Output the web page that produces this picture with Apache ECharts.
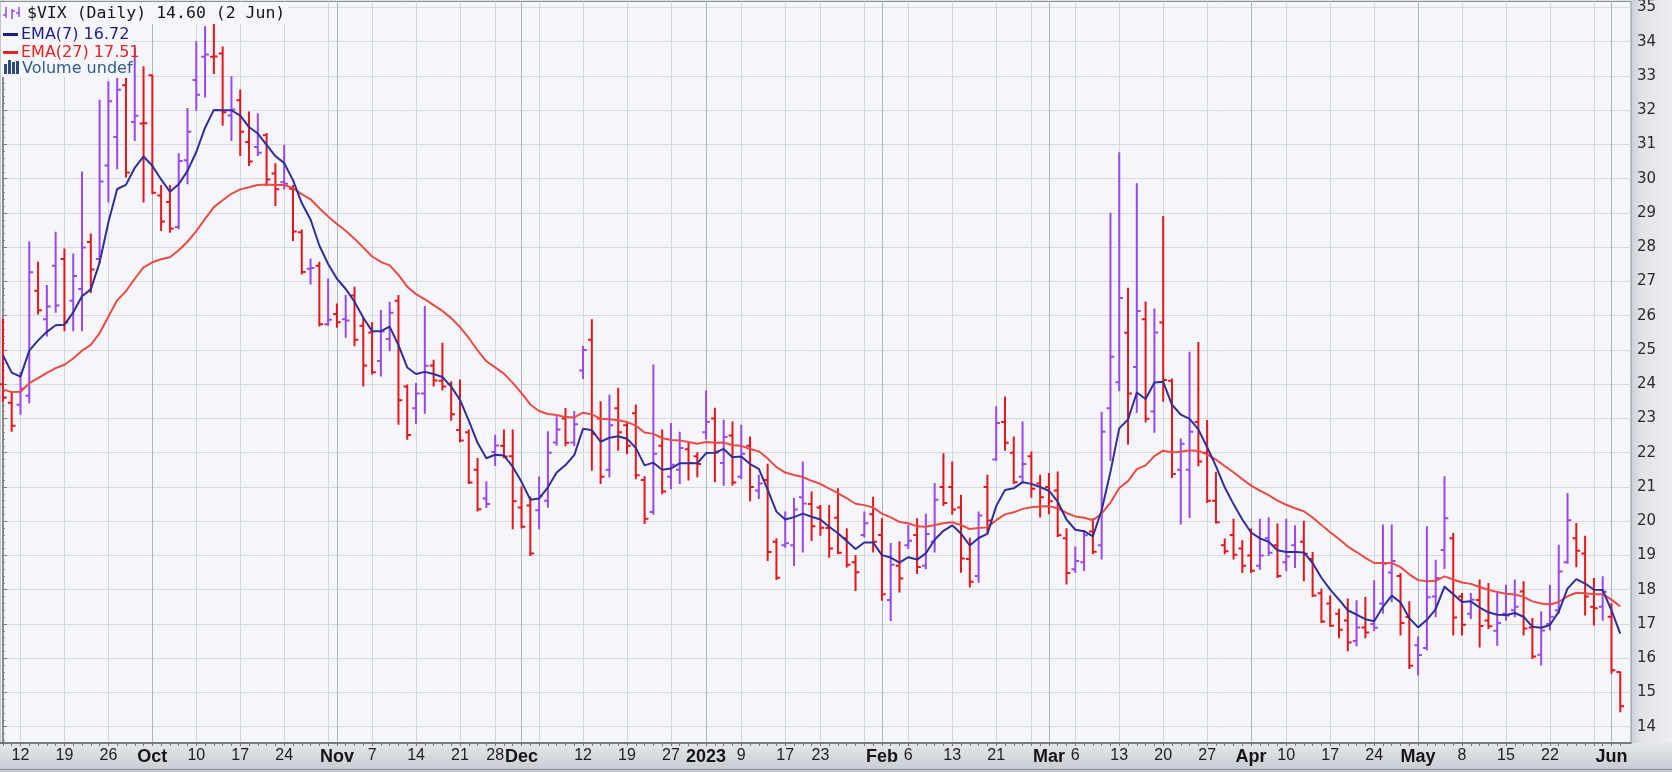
<!DOCTYPE html>
<html>
<head>
<meta charset="utf-8">
<script src="https://cdn.jsdelivr.net/npm/echarts@6.0.0/dist/echarts.min.js"></script>
<style>
html,body{margin:0;padding:0;background:#dde0e5;overflow:hidden;}
#chart{width:1672px;height:772px;}
</style>
</head>
<body>
<div id="chart"></div>
<script>
// ---- $VIX daily, 8 Sep 2022 .. 2 Jun 2023 (one entry per trading day) ----
const opens = [24.0,23.46,23.4,23.66,26.73,25.9,27.46,27.66,26.44,26.78,
28.15,27.66,30.39,31.22,32.73,31.66,31.61,33.02,29.51,29.32,
28.59,30.54,32.88,33.56,33.56,33.66,31.85,32.29,31.07,30.93,
31.27,30.15,29.9,29.71,28.44,27.37,27.46,25.75,26.05,25.9,
26.59,25.71,25.51,24.68,25.32,26.44,23.93,23.3,23.73,24.55,
24.1,24.0,22.66,22.6,21.5,20.66,22.02,22.2,21.9,20.4,
20.46,20.32,20.6,22.3,23.0,22.3,24.4,25.3,23.0,21.5,
23.3,22.8,23.15,21.2,20.27,22.2,21.3,21.5,22.1,21.9,
22.6,23.0,21.7,22.5,21.3,22.2,20.9,21.2,19.4,19.3,
19.3,20.7,20.5,20.4,19.8,20.1,19.5,18.8,19.6,20.2,
19.6,17.7,18.7,19.3,19.6,18.7,19.4,21.0,21.0,20.4,
18.9,18.4,21.0,21.8,22.9,22.0,21.3,21.9,21.1,21.0,
20.9,19.5,18.6,18.8,19.7,19.3,23.3,24.06,25.5,24.5,
25.9,23.2,25.8,24.1,21.5,21.5,22.9,22.0,20.6,19.3,
19.6,19.2,19.0,18.7,19.5,19.3,18.8,19.3,19.4,18.9,
17.9,17.6,17.3,17.1,16.5,16.9,17.0,17.6,18.5,18.4,
17.2,16.38,16.3,17.8,19.16,19.5,17.8,17.3,17.7,17.1,
16.8,17.3,17.4,17.95,16.9,16.1,17.0,17.4,18.8,19.5,
19.06,17.5,17.5,17.21,15.6];
const highs = [25.9,23.76,24.34,28.15,27.56,26.88,28.44,27.95,27.8,30.2,
28.39,32.29,32.83,32.93,32.93,33.8,33.27,33.02,29.8,29.8,
30.73,32.05,34.0,34.44,34.54,33.85,32.98,32.59,31.95,31.9,
31.32,30.44,30.98,29.8,28.5,27.66,27.56,27.07,26.34,26.59,
26.83,25.95,25.8,26.15,26.39,26.59,23.98,24.02,26.27,24.7,
25.2,24.07,24.12,22.66,21.83,21.15,22.51,22.66,22.66,21.0,
20.71,21.29,22.61,23.05,23.29,23.2,25.1,25.88,23.49,23.68,
23.88,22.9,23.39,21.3,24.56,22.66,22.85,22.6,22.3,22.0,
23.8,23.3,22.95,22.9,22.8,22.46,21.34,21.66,19.49,20.27,
20.66,21.73,20.85,20.46,20.46,20.95,19.78,19.0,20.27,20.7,
20.07,19.35,19.4,19.88,20.07,20.2,21.1,21.97,21.73,20.76,
19.5,20.27,21.34,23.34,23.63,22.46,22.9,22.02,21.34,21.39,
21.44,19.78,19.25,19.73,20.07,23.18,28.99,30.76,26.8,29.85,
26.4,26.2,28.9,24.15,22.4,24.93,25.22,22.94,21.43,19.48,
20.06,19.43,19.77,20.06,20.1,19.92,20.06,19.87,20.0,19.09,
18.02,17.82,17.43,17.73,17.68,17.77,18.26,19.89,19.89,18.47,
17.65,16.63,19.84,18.86,21.3,19.64,17.89,17.89,18.28,18.18,
17.89,18.13,18.28,18.23,17.16,17.36,18.13,19.3,20.81,19.93,
19.56,18.33,18.38,17.6,15.6];
const lows = [23.5,22.63,23.12,23.46,26.05,25.41,26.1,25.56,25.56,25.56,
26.68,27.56,29.32,30.29,30.05,31.12,29.32,29.56,28.49,28.44,
28.54,29.85,32.0,32.39,33.07,31.56,31.12,30.68,30.39,30.68,
29.8,29.22,29.7,28.2,27.22,26.93,25.7,25.72,25.66,25.37,
25.12,23.95,24.3,24.24,24.98,22.83,22.39,22.85,23.15,23.95,
23.83,22.95,22.32,21.1,20.3,20.4,21.63,21.85,19.78,19.8,
19.0,19.78,20.41,22.22,22.2,22.2,24.17,21.49,21.1,21.29,
22.07,21.97,21.24,19.93,20.2,20.8,20.95,21.1,21.2,21.3,
22.4,21.15,21.05,21.05,21.24,20.6,20.66,18.85,18.3,19.24,
18.71,19.1,19.44,19.59,18.95,19.05,18.66,17.98,19.54,19.1,
17.69,17.1,17.93,19.2,18.47,18.61,19.1,20.46,20.2,18.51,
18.08,18.22,19.68,21.78,22.07,21.1,21.15,20.7,20.12,20.22,
19.55,18.17,18.51,18.56,19.05,18.9,21.77,23.81,22.25,23.18,
22.9,22.6,23.5,21.28,19.92,20.11,21.62,20.55,19.95,19.05,
18.9,18.5,18.5,18.6,19.0,18.36,18.55,18.65,18.26,17.8,
17.04,16.93,16.6,16.22,16.36,16.6,16.8,17.31,17.65,16.68,
15.7,15.51,16.24,17.21,18.62,16.68,16.68,17.16,16.33,16.87,
16.38,17.11,17.21,16.68,15.99,15.8,16.82,17.31,18.77,18.67,
17.26,16.97,17.11,15.56,14.44];
const closes = [23.61,22.79,23.87,27.27,26.16,26.27,26.3,25.81,27.16,27.99,
27.35,29.92,32.26,32.6,30.18,31.84,31.62,29.59,28.75,28.55,
30.52,31.37,32.45,33.63,33.57,31.94,32.02,31.37,30.5,30.76,
29.98,29.69,29.85,28.46,27.28,27.39,25.75,25.88,25.81,25.86,
25.3,24.55,24.35,25.54,26.09,23.53,22.52,23.73,24.54,24.11,
23.93,23.12,22.36,21.13,20.35,20.5,22.21,21.89,20.58,19.84,
19.06,20.75,22.0,22.68,22.29,22.83,25.0,22.55,21.3,22.8,
22.6,22.2,21.34,20.07,21.97,20.87,21.65,22.14,21.7,21.67,
22.9,22.01,22.46,21.13,21.97,21.0,21.1,19.1,18.35,19.36,
20.34,20.52,19.85,19.81,19.2,19.08,18.73,18.51,19.94,19.4,
17.87,18.73,18.33,19.43,18.66,19.63,20.63,20.53,20.34,18.91,
18.23,20.17,20.02,22.87,22.29,21.14,21.67,20.95,20.7,20.58,
19.59,18.49,18.84,19.59,19.11,22.61,24.8,26.52,23.73,26.14,
22.99,25.51,24.12,21.38,22.26,22.61,21.74,20.6,19.97,19.12,
19.02,18.7,18.55,19.0,19.08,18.4,18.97,19.1,19.05,17.83,
17.07,16.95,16.83,16.46,16.9,16.75,16.89,18.76,18.84,17.03,
15.78,16.09,17.78,18.34,20.09,17.19,16.98,17.71,16.94,16.93,
17.03,17.25,17.5,16.87,16.05,16.81,17.21,18.53,20.03,19.14,
17.8,17.46,17.94,15.65,14.6];
const ema7 = [24.85,24.34,24.22,24.98,25.28,25.53,25.72,25.74,26.1,26.57,
26.77,27.55,28.73,29.7,29.82,30.32,30.65,30.38,29.98,29.62,
29.84,30.23,30.78,31.49,32.01,32.0,32.0,31.84,31.51,31.32,
30.99,30.66,30.46,29.96,29.29,28.81,28.05,27.51,27.08,26.78,
26.41,25.94,25.55,25.55,25.68,25.14,24.49,24.3,24.36,24.3,
24.21,23.93,23.54,22.94,22.29,21.84,21.94,21.92,21.59,21.15,
20.63,20.66,20.99,21.42,21.64,21.93,22.7,22.66,22.32,22.44,
22.48,22.41,22.14,21.63,21.71,21.5,21.54,21.69,21.69,21.69,
21.99,22.0,22.11,21.87,21.89,21.67,21.53,20.92,20.28,20.05,
20.12,20.22,20.13,20.05,19.84,19.65,19.42,19.19,19.38,19.38,
19.01,18.94,18.79,18.95,18.88,19.06,19.46,19.72,19.88,19.64,
19.29,19.51,19.63,20.44,20.91,20.96,21.14,21.09,21.0,20.89,
20.57,20.05,19.75,19.71,19.56,20.32,21.44,22.71,22.97,23.76,
23.57,24.05,24.07,23.4,23.11,22.99,22.68,22.16,21.61,20.99,
20.5,20.05,19.67,19.5,19.4,19.15,19.1,19.1,19.09,18.78,
18.35,18.0,17.71,17.4,17.27,17.14,17.08,17.5,17.83,17.63,
17.17,16.9,17.12,17.43,18.09,17.87,17.64,17.66,17.48,17.34,
17.27,17.26,17.32,17.21,16.92,16.89,16.97,17.36,18.03,18.31,
18.18,18.0,17.99,17.4,16.72];
const ema27 = [23.85,23.77,23.78,24.03,24.18,24.33,24.47,24.57,24.75,24.98,
25.15,25.49,25.98,26.45,26.72,27.08,27.41,27.56,27.65,27.71,
27.91,28.16,28.47,28.83,29.17,29.37,29.56,29.69,29.75,29.82,
29.83,29.82,29.82,29.73,29.55,29.4,29.14,28.9,28.68,28.48,
28.25,27.99,27.73,27.57,27.47,27.19,26.85,26.63,26.48,26.31,
26.14,25.93,25.67,25.35,24.99,24.67,24.49,24.31,24.04,23.74,
23.41,23.22,23.13,23.1,23.04,23.03,23.17,23.12,22.99,22.98,
22.95,22.9,22.79,22.59,22.55,22.43,22.37,22.36,22.31,22.26,
22.31,22.29,22.3,22.22,22.2,22.11,22.04,21.83,21.58,21.42,
21.35,21.29,21.18,21.09,20.95,20.82,20.67,20.51,20.47,20.4,
20.22,20.11,19.98,19.94,19.85,19.84,19.89,19.94,19.97,19.89,
19.77,19.8,19.82,20.03,20.2,20.26,20.36,20.41,20.43,20.44,
20.38,20.24,20.14,20.1,20.03,20.22,20.54,20.97,21.17,21.52,
21.63,21.9,22.06,22.01,22.03,22.07,22.05,21.95,21.8,21.61,
21.43,21.23,21.04,20.89,20.76,20.6,20.48,20.38,20.29,20.11,
19.89,19.68,19.48,19.26,19.1,18.93,18.78,18.78,18.78,18.66,
18.45,18.28,18.25,18.26,18.39,18.3,18.21,18.17,18.08,18.0,
17.93,17.88,17.86,17.79,17.66,17.6,17.57,17.64,17.81,17.91,
17.9,17.87,17.87,17.71,17.51];

// x-axis tick labels (trading-day index -> text)
const tickIdx  = [2,7,12,17,22,27,32,38,42,47,52,56,59,66,71,76,80,84,89,93,100,103,108,113,119,122,127,132,137,142,146,151,156,161,166,171,176,183];
const tickText = ['12','19','26','Oct','10','17','24','Nov','7','14','21','28','Dec','12','19','27','2023','9','17','23','Feb','6','13','21','Mar','6','13','20','27','Apr','10','17','24','May','8','15','22','Jun'];
const boldLabels = ['Oct','Nov','Dec','2023','Feb','Mar','Apr','May','Jun'];
// vertical grid lines: first trading day of each week / of each month
const weekIdx  = [2,7,12,17,22,27,32,37,42,47,52,56,61,66,71,76,80,84,89,93,98,103,108,113,117,122,127,132,137,142,146,151,156,161,166,171,176,181];
const monthIdx = [17,38,59,80,100,119,142,161,183];
// y-axis labels
const yLabels = [14,15,16,17,18,19,20,21,22,23,24,25,26,27,28,29,30,31,32,33,34,35];

// ---------------- chart ----------------
const XMIN = -0.33, XMAX = 185.22, YMIN = 13.524, YMAX = 35.175;
const PURPLE = '#9a48ee', RED = '#e5161b';
const PLOT_BG = '#f5f6fa';

const labelMap = {};
tickIdx.forEach((v, k) => { labelMap[v] = tickText[k]; });
const dayTicks = closes.map((_, i) => i);
const minorY = [];
for (let k = 68; k <= 175; k++) minorY.push(k / 5);

const ohlc = closes.map((c, i) => {
  const up = i === 0 ? (c >= opens[i] ? 1 : 0) : (c > closes[i - 1] ? 1 : 0);
  return [i, opens[i], highs[i], lows[i], c, up];
});
const e7 = ema7.map((v, i) => [i, v]);
const e27 = ema27.map((v, i) => [i, v]);

function renderBar(params, api) {
  const i = api.value(0);
  const o = api.coord([i, api.value(1)]);
  const h = api.coord([i, api.value(2)]);
  const l = api.coord([i, api.value(3)]);
  const c = api.coord([i, api.value(4)]);
  const col = api.value(5) ? PURPLE : RED;
  const st = { stroke: col, lineWidth: 2, lineCap: 'butt' };
  const w = 3.8;
  return {
    type: 'group',
    children: [
      { type: 'line', shape: { x1: h[0], y1: h[1] - 0.5, x2: l[0], y2: l[1] + 0.5 }, style: st },
      { type: 'line', shape: { x1: o[0] - w, y1: o[1], x2: o[0], y2: o[1] }, style: st },
      { type: 'line', shape: { x1: c[0], y1: c[1], x2: c[0] + w, y2: c[1] }, style: st }
    ]
  };
}

const hiddenX = (vals, split) => ({
  type: 'value', gridIndex: 0, position: 'bottom', min: XMIN, max: XMAX,
  axisLine: { show: false }, axisLabel: { show: false },
  axisTick: split ? { show: false, customValues: vals } : { show: true, customValues: vals, length: 3, lineStyle: { color: '#6f747c', width: 1 } },
  splitLine: split ? { show: true, lineStyle: { color: split, width: 1 } } : { show: false }
});

const chart = echarts.init(document.getElementById('chart'), null, { renderer: 'canvas' });
chart.setOption({
  animation: false,
  backgroundColor: '#dde0e5',
  grid: { left: 0, top: 1, width: 1631, height: 742, show: true, backgroundColor: PLOT_BG, borderColor: '#8d919a', borderWidth: 1 },
  xAxis: [
    {
      type: 'value', gridIndex: 0, position: 'bottom', min: XMIN, max: XMAX,
      axisLine: { show: true, lineStyle: { color: '#5f646c', width: 1.5 } },
      axisTick: { show: false, customValues: weekIdx },
      splitLine: { show: true, lineStyle: { color: '#d3d6dc', width: 1 } },
      axisLabel: {
        customValues: tickIdx, margin: 5, color: '#1e1e1e',
        fontFamily: 'Liberation Sans', fontSize: 16,
        formatter: v => { const t = labelMap[Math.round(v)] || ''; return boldLabels.indexOf(t) >= 0 ? '{b|' + t + '}' : t; },
        rich: { b: { fontFamily: 'Liberation Sans', fontWeight: 'bold', fontSize: 18, color: '#151515' } }
      }
    },
    hiddenX(monthIdx, '#aeb2ba'),
    hiddenX(dayTicks, null)
  ],
  yAxis: [
    {
      type: 'value', position: 'right', min: YMIN, max: YMAX,
      axisLine: { show: true, lineStyle: { color: '#5f646c', width: 1.5 } },
      axisTick: { show: true, customValues: yLabels, length: 4, lineStyle: { color: '#6f747c' } },
      splitLine: { show: true, lineStyle: { color: '#d6d9df', width: 1 } },
      axisLabel: { customValues: yLabels, margin: 6, color: '#2a2a2a', fontFamily: 'DejaVu Sans', fontSize: 15 }
    },
    {
      type: 'value', position: 'right', min: YMIN, max: YMAX,
      axisLine: { show: false }, axisLabel: { show: false }, splitLine: { show: false },
      axisTick: { show: true, customValues: minorY, length: 2, lineStyle: { color: '#80858d' } }
    }
  ],
  series: [
    { type: 'custom', name: '$VIX', xAxisIndex: 0, yAxisIndex: 0, renderItem: renderBar, data: ohlc, clip: true,
      encode: { x: 0, y: [1, 2, 3, 4] }, z: 3 },
    { type: 'line', name: 'EMA(27)', xAxisIndex: 0, yAxisIndex: 0, data: e27, showSymbol: false, symbol: 'none',
      lineStyle: { color: '#ec4a44', width: 2 }, z: 4 },
    { type: 'line', name: 'EMA(7)', xAxisIndex: 0, yAxisIndex: 0, data: e7, showSymbol: false, symbol: 'none',
      lineStyle: { color: '#2f2f98', width: 2 }, z: 5 }
  ],
  graphic: [
    { type: 'rect', z: -10, silent: true, shape: { x: 0, y: 743, width: 1672, height: 29 },
      style: { fill: new echarts.graphic.LinearGradient(0, 0, 0, 1, [{ offset: 0, color: '#e5e7eb' }, { offset: 1, color: '#c6cad1' }]) } },
    { type: 'rect', z: -10, silent: true, shape: { x: 1631, y: 0, width: 41, height: 743 },
      style: { fill: new echarts.graphic.LinearGradient(0, 0, 1, 0, [{ offset: 0, color: '#ccd0d7' }, { offset: 0.25, color: '#e1e3e8' }, { offset: 1, color: '#eceef1' }]) } },
    { type: 'line', z: -9, silent: true, shape: { x1: 0, y1: 769.5, x2: 1672, y2: 769.5 }, style: { stroke: '#8a8f98', lineWidth: 1 } },
    // legend backgrounds
    { type: 'rect', z: 50, silent: true, shape: { x: 1, y: 2, width: 287, height: 22 }, style: { fill: PLOT_BG } },
    { type: 'rect', z: 50, silent: true, shape: { x: 1, y: 24, width: 132, height: 53 }, style: { fill: PLOT_BG } },
    // line 1 icon (small purple OHLC bars)
    { type: 'line', z: 51, shape: { x1: 6, y1: 7, x2: 6, y2: 18 }, style: { stroke: PURPLE, lineWidth: 1.5 } },
    { type: 'line', z: 51, shape: { x1: 3, y1: 15, x2: 6, y2: 15 }, style: { stroke: PURPLE, lineWidth: 1.5 } },
    { type: 'line', z: 51, shape: { x1: 12, y1: 9, x2: 12, y2: 19 }, style: { stroke: PURPLE, lineWidth: 1.5 } },
    { type: 'line', z: 51, shape: { x1: 12, y1: 11, x2: 15, y2: 11 }, style: { stroke: PURPLE, lineWidth: 1.5 } },
    { type: 'line', z: 51, shape: { x1: 19, y1: 7, x2: 19, y2: 17 }, style: { stroke: PURPLE, lineWidth: 1.5 } },
    { type: 'line', z: 51, shape: { x1: 16, y1: 13, x2: 19, y2: 13 }, style: { stroke: PURPLE, lineWidth: 1.5 } },
    { type: 'text', z: 51, x: 27, y: 13.5, style: { text: '$VIX (Daily) 14.60 (2 Jun)', font: '16.5px "DejaVu Sans Mono"', fill: '#151515', verticalAlign: 'middle' } },
    // line 2
    { type: 'line', z: 51, shape: { x1: 3, y1: 34.5, x2: 18, y2: 34.5 }, style: { stroke: '#1e1e8a', lineWidth: 3 } },
    { type: 'text', z: 51, x: 21, y: 34.5, style: { text: 'EMA(7) 16.72', font: '16px "DejaVu Sans"', fill: '#1e1e8a', verticalAlign: 'middle' } },
    // line 3
    { type: 'line', z: 51, shape: { x1: 3, y1: 52.5, x2: 18, y2: 52.5 }, style: { stroke: '#e2231e', lineWidth: 3 } },
    { type: 'text', z: 51, x: 21, y: 52.5, style: { text: 'EMA(27) 17.51', font: '16px "DejaVu Sans"', fill: '#e2231e', verticalAlign: 'middle' } },
    // line 4 (volume icon)
    { type: 'rect', z: 51, shape: { x: 4, y: 64, width: 3, height: 10 }, style: { fill: '#2c4a7c' } },
    { type: 'rect', z: 51, shape: { x: 8, y: 60, width: 3, height: 14 }, style: { fill: '#2c4a7c' } },
    { type: 'rect', z: 51, shape: { x: 12, y: 62, width: 3, height: 12 }, style: { fill: '#2c4a7c' } },
    { type: 'rect', z: 51, shape: { x: 16, y: 61, width: 3, height: 13 }, style: { fill: '#2c4a7c' } },
    { type: 'text', z: 51, x: 22, y: 68.5, style: { text: 'Volume undef', font: '16px "DejaVu Sans"', fill: '#2f5a8e', verticalAlign: 'middle' } }
  ]
});
</script>
</body>
</html>
